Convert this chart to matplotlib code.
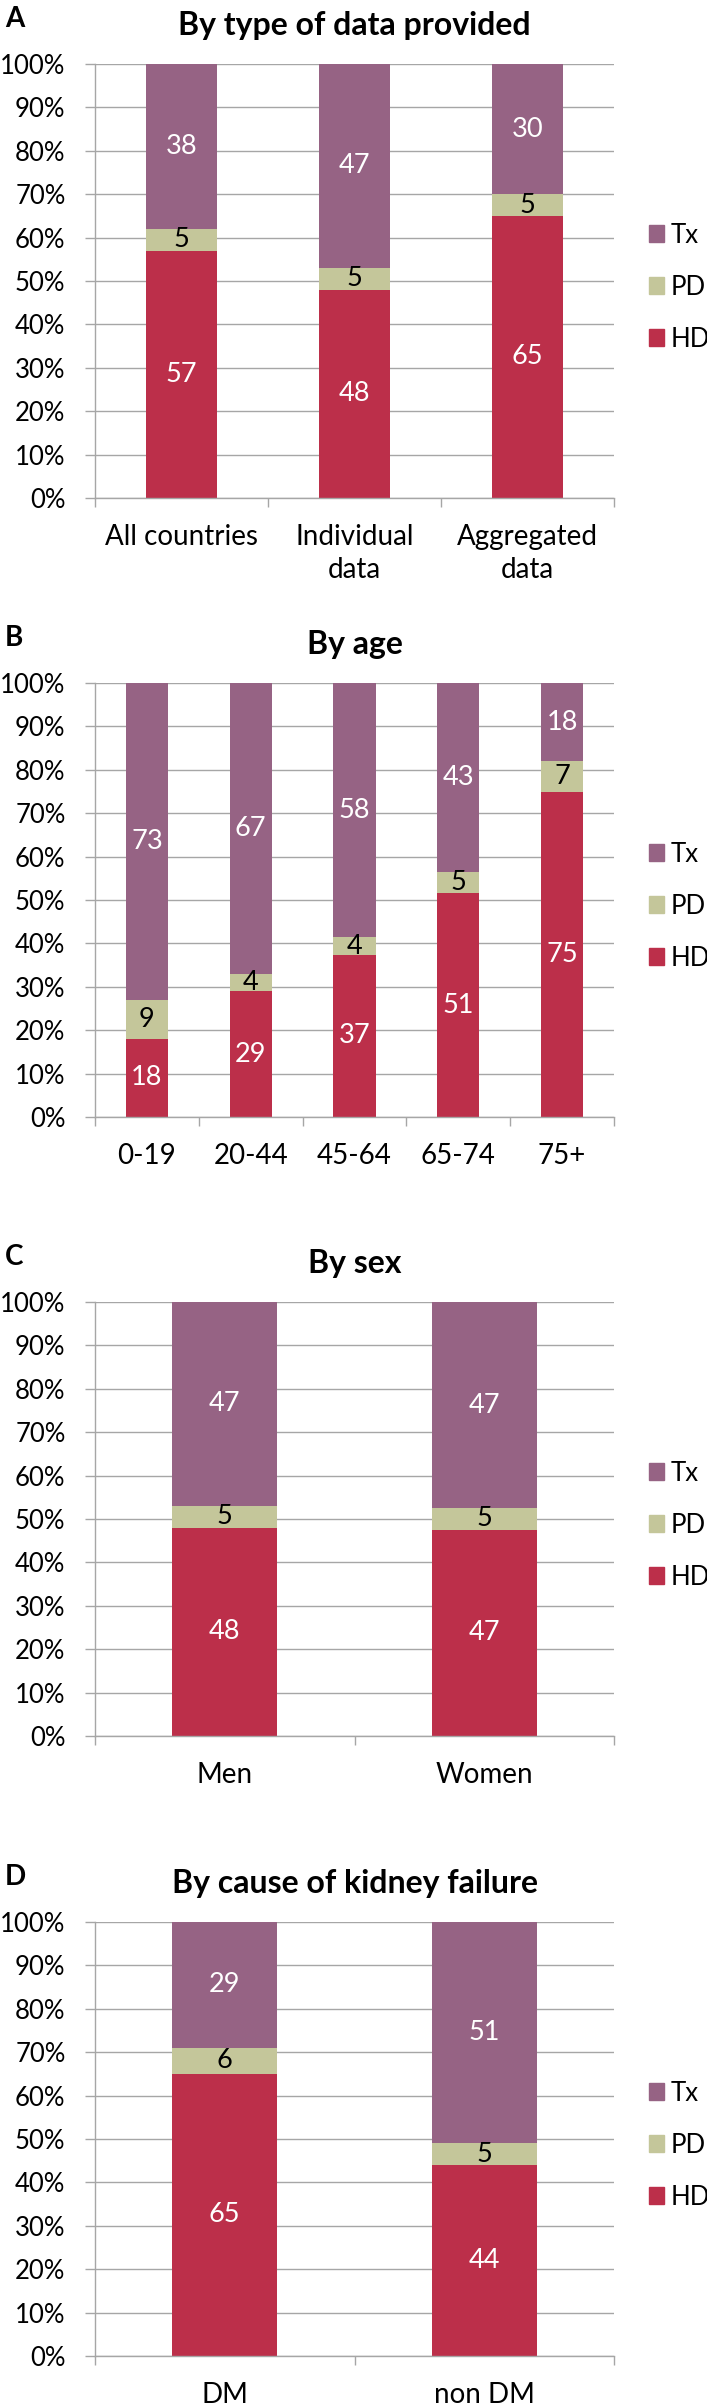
import matplotlib
matplotlib.use("Agg")
import matplotlib.pyplot as plt
import matplotlib.ticker as tkr
from matplotlib.patches import Patch
import numpy as np

plt.rcParams['font.family'] = ['Lato', 'DejaVu Sans']

# panel A - by type of data provided
cats_a = ['All countries', 'Individual\ndata', 'Aggregated\ndata']
hd_a = [57, 48, 65]
pd_a = [5, 5, 5]
tx_a = [38, 47, 30]

# panel B - by age
cats_b = ['0-19', '20-44', '45-64', '65-74', '75+']
hd_b = [18, 29, 37, 51, 75]
pd_b = [9, 4, 4, 5, 7]
tx_b = [73, 67, 58, 43, 18]

# panel C - by sex
cats_c = ['Men', 'Women']
hd_c = [48, 47]
pd_c = [5, 5]
tx_c = [47, 47]

# panel D - by cause of kidney failure
cats_d = ['DM', 'non DM']
hd_d = [65, 44]
pd_d = [6, 5]
tx_d = [29, 51]

letters = ['A', 'B', 'C', 'D']
titles = ['By type of data provided', 'By age', 'By sex', 'By cause of kidney failure']

col_hd = '#BC2F4A'
col_pd = '#C4C69A'
col_tx = '#966384'
grey = '#A6A6A6'

W, H = 707, 2408
fig = plt.figure(figsize=(W / 100, H / 100), dpi=100)

ax_top = [64, 683, 1302, 1922]   # pixel rows of 100% line
ax_h = 434
ax_left, ax_right = 95, 614

panels = [(cats_a, hd_a, pd_a, tx_a),
          (cats_b, hd_b, pd_b, tx_b),
          (cats_c, hd_c, pd_c, tx_c),
          (cats_d, hd_d, pd_d, tx_d)]

for k, (cats, hd, pdv, tx) in enumerate(panels):
    top = ax_top[k]
    ax = fig.add_axes([ax_left / W, 1 - (top + ax_h) / H,
                       (ax_right - ax_left) / W, ax_h / H])
    n = len(cats)
    x = np.arange(n)
    hd = np.array(hd, float)
    pdv = np.array(pdv, float)
    tx = np.array(tx, float)
    tot = hd + pdv + tx
    h1 = hd / tot * 100
    h2 = pdv / tot * 100
    h3 = tx / tot * 100

    ax.yaxis.grid(True, color=grey, lw=1.0, zorder=0)
    ax.set_axisbelow(True)
    w = 0.405
    ax.bar(x, h1, w, color=col_hd, zorder=2, label='HD')
    ax.bar(x, h2, w, bottom=h1, color=col_pd, zorder=2, label='PD')
    ax.bar(x, h3, w, bottom=h1 + h2, color=col_tx, zorder=2, label='Tx')

    for i in range(n):
        ax.text(x[i], h1[i] / 2, '%d' % hd[i], ha='center', va='center',
                color='white', fontsize=19.5, zorder=3)
        ax.text(x[i], h1[i] + h2[i] / 2, '%d' % pdv[i], ha='center', va='center',
                color='black', fontsize=19.5, zorder=3)
        ax.text(x[i], h1[i] + h2[i] + h3[i] / 2, '%d' % tx[i], ha='center',
                va='center', color='white', fontsize=19.5, zorder=3)

    ax.set_xlim(-0.5, n - 0.5)
    ax.set_ylim(0, 100)
    ax.set_yticks(np.arange(0, 101, 10))
    ax.yaxis.set_major_formatter(tkr.FuncFormatter(lambda v, p: '%d%%' % v))
    ax.tick_params(axis='y', length=7.2, width=1.0, color=grey, pad=14,
                   labelsize=18.5)
    ax.set_xticks(x)
    ax.set_xticklabels(cats, fontsize=20, linespacing=1.3)
    ax.set_xticks(np.arange(-0.5, n, 1.0), minor=True)
    ax.tick_params(axis='x', which='major', length=0, pad=19)
    ax.tick_params(axis='x', which='minor', length=6.5, width=1.0, color=grey)

    for s in ['top', 'right']:
        ax.spines[s].set_visible(False)
    for s in ['left', 'bottom']:
        ax.spines[s].set_color(grey)
        ax.spines[s].set_linewidth(1.0)

    ax.set_title(titles[k], fontsize=23, fontweight='bold', pad=21)

    handles = [Patch(color=col_tx), Patch(color=col_pd), Patch(color=col_hd)]
    ax.legend(handles, ['Tx', 'PD', 'HD'], loc='center left',
              bbox_to_anchor=((649 - ax_left) / (ax_right - ax_left), 0.486),
              frameon=False, fontsize=18.5, handlelength=0.6, handleheight=0.6,
              handletextpad=0.25, labelspacing=1.05, borderpad=0, borderaxespad=0)

    fig.text(5 / W, 1 - (top - 37) / H, letters[k], fontsize=20,
             fontweight='bold', va='baseline', ha='left')

fig.savefig('out.png', dpi=100)
